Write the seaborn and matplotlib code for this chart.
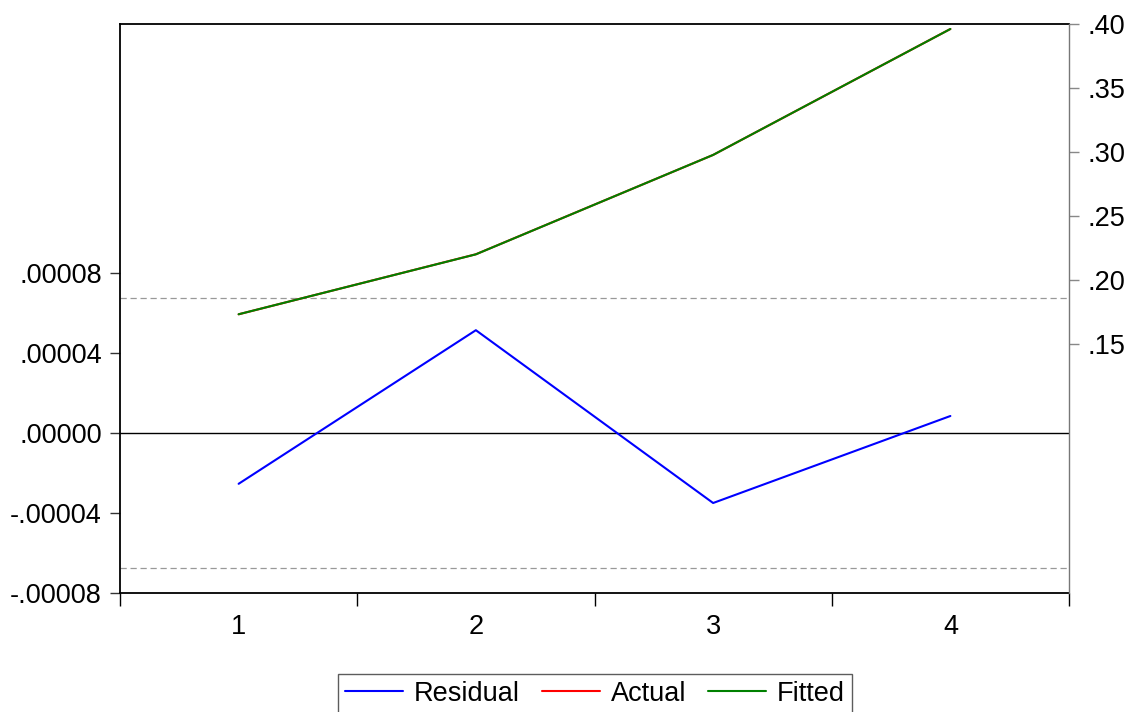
import matplotlib
matplotlib.use("Agg")
import matplotlib.pyplot as plt
import pandas as pd
import seaborn as sns
from matplotlib.ticker import FixedLocator, FixedFormatter

# Observations and regression output
obs = [1, 2, 3, 4]
residual = [-0.0000254, 0.0000514, -0.0000350, 0.0000085]
fitted = [0.17323, 0.22005, 0.29773, 0.39610]
actual = [0.17320, 0.22010, 0.29770, 0.39611]
se_band = 0.0000675  # +/- standard error of regression

left_ticks = [-0.00008, -0.00004, 0.0, 0.00004, 0.00008]
left_labels = ["-.00008", "-.00004", ".00000", ".00004", ".00008"]
right_ticks = [0.15, 0.20, 0.25, 0.30, 0.35, 0.40]
right_labels = [".15", ".20", ".25", ".30", ".35", ".40"]

df = pd.DataFrame({"obs": obs, "Residual": residual,
                   "Actual": actual, "Fitted": fitted})

sns.set_theme(style="white")
plt.rcParams["font.family"] = ["Liberation Sans", "DejaVu Sans"]
plt.rcParams["text.color"] = "black"
FS = 19.5
LW = 1.5

fig = plt.figure(figsize=(11.37, 7.12), dpi=100)
ax = fig.add_axes([120 / 1137, 1 - 593 / 712, (1069 - 120) / 1137, (593 - 24) / 712])
ax2 = ax.twinx()

# residual panel (left scale)
ax.axhline(0, color="black", lw=1.0, zorder=1)
ax.axhline(se_band, color="#999999", lw=0.9, ls=(0, (5, 3)), zorder=1)
ax.axhline(-se_band, color="#999999", lw=0.9, ls=(0, (5, 3)), zorder=1)
sns.lineplot(data=df, x="obs", y="Residual", ax=ax, color="#0000FF", lw=LW,
             label="Residual", legend=False)

# actual / fitted (right scale)
sns.lineplot(data=df, x="obs", y="Actual", ax=ax2, color="#FF0000", lw=LW,
             label="Actual", legend=False)
sns.lineplot(data=df, x="obs", y="Fitted", ax=ax2, color="#008000", lw=LW,
             label="Fitted", legend=False)

ax.set_xlim(0.5, 4.5)
ax.set_ylim(-0.00008, 0.0002045)
ax2.set_ylim(0.40 - 569 / 1280, 0.40)

# x axis: labels at observations, tick marks between them
ax.xaxis.set_major_locator(FixedLocator(obs))
ax.xaxis.set_major_formatter(FixedFormatter([str(o) for o in obs]))
ax.xaxis.set_minor_locator(FixedLocator([0.5, 1.5, 2.5, 3.5, 4.5]))
ax.tick_params(axis="x", which="major", length=0, pad=15, labelsize=FS, labelcolor="black")
ax.tick_params(axis="x", which="minor", bottom=True, length=9, width=1.0,
               direction="out", color="black")

ax.set_yticks(left_ticks)
ax.set_yticklabels(left_labels)
ax.tick_params(axis="y", left=True, length=7, width=1.0, direction="out",
               pad=6, labelsize=FS, color="#333333", labelcolor="black")

ax2.set_yticks(right_ticks)
ax2.set_yticklabels(right_labels)
ax2.tick_params(axis="y", right=True, length=7, width=1.0, direction="out",
                pad=6, labelsize=FS, color="#888888", labelcolor="black")

ax.set_xlabel("")
ax.set_ylabel("")
ax2.set_ylabel("")

for name in ["left", "bottom", "top"]:
    ax.spines[name].set_color("black")
    ax.spines[name].set_linewidth(1.3)
ax.spines["right"].set_visible(False)
for name in ["left", "bottom", "top"]:
    ax2.spines[name].set_visible(False)
ax2.spines["right"].set_color("#777777")
ax2.spines["right"].set_linewidth(1.0)

h1, l1 = ax.get_legend_handles_labels()
h2, l2 = ax2.get_legend_handles_labels()
leg = fig.legend(h1 + h2, l1 + l2, loc="upper center",
                 bbox_to_anchor=(595 / 1137, 1 - 674 / 712), ncol=3,
                 fontsize=FS, frameon=True, fancybox=False, shadow=False,
                 handlelength=2.15, handletextpad=0.4, columnspacing=0.8,
                 borderpad=0.25, borderaxespad=0)
leg.get_frame().set_edgecolor("#333333")
leg.get_frame().set_linewidth(1.0)
for t in leg.get_texts():
    t.set_color("black")

fig.savefig("out.png", dpi=100)
